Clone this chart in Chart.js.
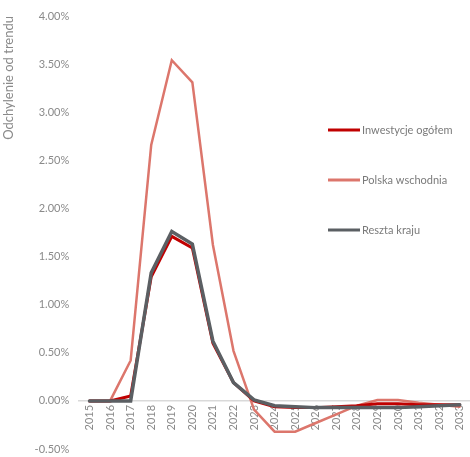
<!DOCTYPE html>
<html>
<head>
<meta charset="utf-8">
<script src="https://cdn.jsdelivr.net/npm/chart.js@4/dist/chart.umd.min.js"></script>
<style>
  html, body { margin: 0; padding: 0; background: #ffffff; }
  #wrap { width: 470px; height: 457px; }
</style>
</head>
<body>
<div id="wrap"><canvas id="c" width="470" height="457"></canvas></div>
<script>
// Years on the category axis
const years = ['2015','2016','2017','2018','2019','2020','2021','2022','2023','2024',
               '2025','2026','2027','2028','2029','2030','2031','2032','2033'];

// Deviation from trend, in percent
const inwestycjeOgolem = [0.00, 0.00, 0.05, 1.29, 1.71, 1.59, 0.60, 0.19, 0.00, -0.06,
                          -0.07, -0.07, -0.06, -0.05, -0.03, -0.03, -0.04, -0.04, -0.04];
const polskaWschodnia  = [0.00, 0.00, 0.42, 2.66, 3.54, 3.31, 1.62, 0.52, -0.09, -0.32,
                          -0.32, -0.23, -0.14, -0.05, 0.01, 0.01, -0.02, -0.04, -0.06];
const resztaKraju      = [0.00, 0.00, 0.00, 1.33, 1.76, 1.63, 0.62, 0.19, 0.01, -0.05,
                          -0.06, -0.07, -0.07, -0.07, -0.07, -0.07, -0.06, -0.05, -0.04];

// Value axis range and step
const yMin = -0.5, yMax = 4.0, yStep = 0.5;

const seriesLabels = ['Inwestycje ogółem', 'Polska wschodnia', 'Reszta kraju'];
const seriesColors = ['#c00000', '#dc766c', '#5b5f63'];

const FONT = 'Lato, "Liberation Sans", sans-serif';
const TEXT = '#8a8a8a';

// Legend drawn inside the plot, stacked on the right
const sideLegend = {
  id: 'sideLegend',
  afterDatasetsDraw(chart, args, opts) {
    const ctx = chart.ctx;
    const order = [0, 1, 2];
    ctx.save();
    ctx.font = '11px ' + FONT;
    ctx.textBaseline = 'middle';
    order.forEach((i, k) => {
      const ds = chart.data.datasets[i];
      const y = opts.top + k * opts.gap;
      ctx.strokeStyle = ds.borderColor;
      ctx.lineWidth = 3;
      ctx.beginPath();
      ctx.moveTo(opts.left, y);
      ctx.lineTo(opts.left + opts.len, y);
      ctx.stroke();
      ctx.fillStyle = '#7a7a7a';
      ctx.fillText(ds.label, opts.left + opts.len + 2, y);
    });
    ctx.restore();
  }
};

new Chart(document.getElementById('c'), {
  type: 'line',
  data: {
    labels: years,
    datasets: [
      { label: seriesLabels[0], data: inwestycjeOgolem, borderColor: seriesColors[0],
        borderWidth: 3, order: 1 },
      { label: seriesLabels[1], data: polskaWschodnia, borderColor: seriesColors[1],
        borderWidth: 2.5, order: 2 },
      { label: seriesLabels[2], data: resztaKraju, borderColor: seriesColors[2],
        borderWidth: 3.5, order: 0 }
    ]
  },
  options: {
    responsive: false,
    animation: false,
    devicePixelRatio: 1,
    elements: {
      point: { radius: 0, hoverRadius: 0 },
      line: { tension: 0, borderCapStyle: 'round', borderJoinStyle: 'miter', fill: false }
    },
    layout: { padding: { top: 16, right: 0, bottom: 8, left: 1 } },
    plugins: {
      legend: { display: false },
      tooltip: { enabled: false },
      sideLegend: { left: 328, len: 32, top: 130, gap: 50 }
    },
    scales: {
      x: {
        type: 'category',
        position: { y: 0 },
        offset: true,
        grid: { display: false, drawTicks: false },
        border: { display: true, color: '#d9d9d9', width: 1.5 },
        ticks: {
          color: TEXT,
          font: { family: FONT, size: 11 },
          minRotation: 90,
          maxRotation: 90,
          autoSkip: false,
          padding: 4
        },
        // the year labels sit inside the plot, under the zero line
        afterFit(scale) {
          scale.height = 0;
          scale.paddingLeft = 0;
          scale.paddingRight = 0;
          scale.paddingTop = 0;
          scale.paddingBottom = 0;
        }
      },
      y: {
        min: yMin,
        max: yMax,
        grid: { display: false, drawTicks: false },
        border: { display: false },
        ticks: {
          stepSize: yStep,
          color: TEXT,
          font: { family: FONT, size: 11 },
          padding: 10,
          callback: v => v.toFixed(2) + '%'
        },
        title: {
          display: true,
          text: 'Odchylenie od trendu',
          align: 'end',
          color: TEXT,
          font: { family: FONT, size: 13 },
          padding: { top: 0, bottom: 8 }
        },
        afterFit(scale) {
          scale.paddingTop = 0;
          scale.paddingBottom = 0;
        }
      }
    }
  },
  plugins: [sideLegend]
});
</script>
</body>
</html>
